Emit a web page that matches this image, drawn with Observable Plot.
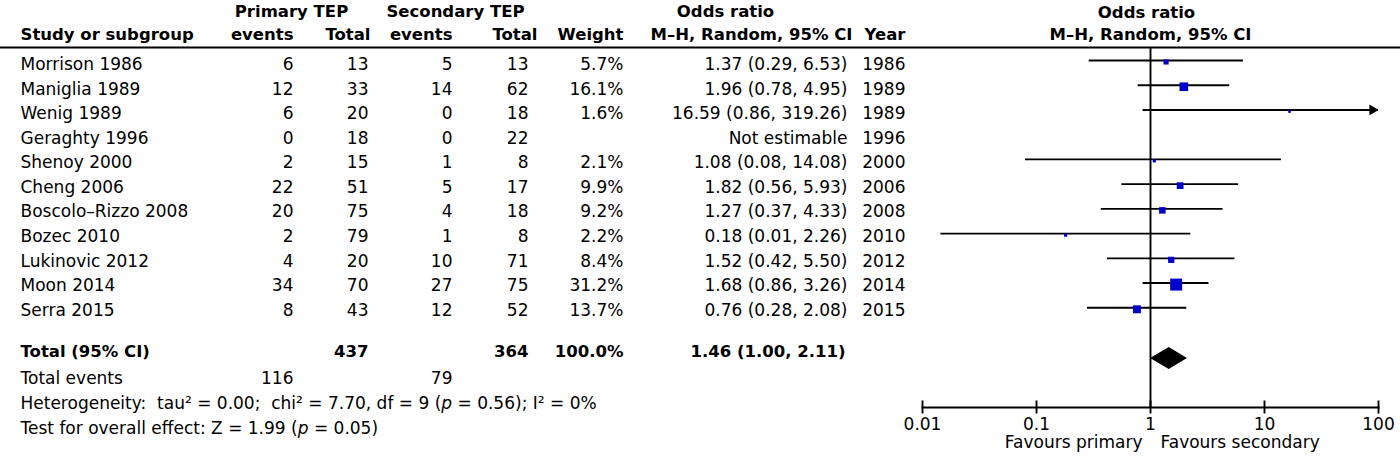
<!DOCTYPE html>
<html>
<head>
<meta charset="utf-8">
<script src="https://cdn.jsdelivr.net/npm/d3@7"></script>
<script src="https://cdn.jsdelivr.net/npm/@observablehq/plot@0.6"></script>
<style>
  body { margin: 0; background: #fff; }
  #chart { position: relative; width: 1400px; height: 458px; background: #fff; }
  #chart svg { position: absolute; left: 0; top: 0; }
</style>
</head>
<body>
<div id="chart"></div>
<script>
// ---------------- DATA ----------------
const studies = ["Morrison 1986", "Maniglia 1989", "Wenig 1989", "Geraghty 1996", "Shenoy 2000", "Cheng 2006",
  "Boscolo–Rizzo 2008", "Bozec 2010", "Lukinovic 2012", "Moon 2014", "Serra 2015"];
const primaryEvents   = [6, 12, 6, 0, 2, 22, 20, 2, 4, 34, 8];
const primaryTotal    = [13, 33, 20, 18, 15, 51, 75, 79, 20, 70, 43];
const secondaryEvents = [5, 14, 0, 0, 1, 5, 4, 1, 10, 27, 12];
const secondaryTotal  = [13, 62, 18, 22, 8, 17, 18, 8, 71, 75, 52];
const weights   = [5.7, 16.1, 1.6, null, 2.1, 9.9, 9.2, 2.2, 8.4, 31.2, 13.7];
const oddsRatio = [1.37, 1.96, 16.59, null, 1.08, 1.82, 1.27, 0.18, 1.52, 1.68, 0.76];
const ciLower   = [0.29, 0.78, 0.86, null, 0.08, 0.56, 0.37, 0.0145, 0.42, 0.86, 0.28];
const ciUpper   = [6.53, 4.95, 319.26, null, 14.08, 5.93, 4.33, 2.26, 5.50, 3.26, 2.08];
const years     = [1986, 1989, 1989, 1996, 2000, 2006, 2008, 2010, 2012, 2014, 2015];

const totalPrimary = 437, totalSecondary = 364, totalWeight = 100.0;
const totalOR = 1.46, totalLower = 1.00, totalUpper = 2.11;
const eventsPrimary = 116, eventsSecondary = 79;
const heterogeneityText = "Heterogeneity:  tau² = 0.00;  chi² = 7.70, df = 9 (p = 0.56); I² = 0%";
const overallText = "Test for overall effect: Z = 1.99 (p = 0.05)";

const headerTop = ["Primary TEP", "Secondary TEP", "Odds ratio"];
const headerCols = ["events", "Total", "events", "Total", "Weight", "M–H, Random, 95% CI", "Year"];
const studyHeader = "Study or subgroup";
const forestHeader = ["Odds ratio", "M–H, Random, 95% CI"];
const xTicks = [0.01, 0.1, 1, 10, 100];
const favours = ["Favours primary", "Favours secondary"];

// ---------------- LAYOUT ----------------
const W = 1400, H = 458;
const FONT = "DejaVu Sans";
const FS = 17;      // regular text
const FSB = 16.5;   // bold headers
const COL = {study: 20, pe: 293, pt: 368, se: 452, st: 528, w: 623, or: 847, yr: 905};
const headerTopX = [291, 455, 725];
const headerColX = [293, 370, 452, 537, 623, 852, 905];
const ROW = {h1: -2.14, h2: -1.21, total: 11.71, events: 12.79, het: 13.81, test: 14.83};
const FROW = {h1: -1.95, h2: -1.035, total: 12.05, favours: 15.43};
const xDomain = [0.01, 100];
const blue = "#0000cc";
const sw = 1.9;

const rows = studies.map((name, i) => ({
  i, name, pe: primaryEvents[i], pt: primaryTotal[i], se: secondaryEvents[i], st: secondaryTotal[i],
  w: weights[i], or: oddsRatio[i], lo: ciLower[i], hi: ciUpper[i], yr: years[i]
}));
const f2 = v => v.toFixed(2);

const at = v => () => v;
const endText = (data, x, y, text, extra = {}) => Plot.text(data, {x: at(x), y, text, textAnchor: "end", fontSize: FS, ...extra});
const startText = (data, x, y, text, extra = {}) => Plot.text(data, {x: at(x), y, text, textAnchor: "start", fontSize: FS, ...extra});
const bold = {fontWeight: "bold", fontSize: FSB};

// ---------------- TABLE ----------------
const table = Plot.plot({
  width: W, height: H,
  marginLeft: 0, marginRight: 0, marginTop: 47, marginBottom: 0,
  x: {type: "linear", domain: [0, W], range: [0, W], axis: null},
  y: {type: "linear", domain: [0, 10], range: [64.2, 309.7], axis: null},
  style: {fontFamily: FONT, fontSize: FS + "px", color: "#000", background: "transparent", overflow: "visible"},
  marks: [
    Plot.frame({anchor: "top", strokeWidth: 2}),
    // headers
    Plot.text(headerTop, {x: (d, i) => headerTopX[i], y: at(ROW.h1), text: d => d, textAnchor: "middle", ...bold}),
    Plot.text(headerCols, {x: (d, i) => headerColX[i], y: at(ROW.h2), text: d => d, textAnchor: "end", ...bold}),
    startText([studyHeader], COL.study, at(ROW.h2), d => d, bold),
    // study rows
    startText(rows, COL.study, "i", "name"),
    endText(rows, COL.pe, "i", d => String(d.pe)),
    endText(rows, COL.pt, "i", d => String(d.pt)),
    endText(rows, COL.se, "i", d => String(d.se)),
    endText(rows, COL.st, "i", d => String(d.st)),
    endText(rows, COL.w, "i", d => d.w == null ? "" : d.w.toFixed(1) + "%"),
    endText(rows, COL.or, "i", d => d.or == null ? "Not estimable" : `${f2(d.or)} (${f2(d.lo)}, ${f2(d.hi)})`),
    endText(rows, COL.yr, "i", d => String(d.yr)),
    // total row
    startText(["Total (95% CI)"], COL.study, at(ROW.total), d => d, bold),
    endText([totalPrimary], COL.pt, at(ROW.total), d => String(d), bold),
    endText([totalSecondary], COL.st, at(ROW.total), d => String(d), bold),
    endText([totalWeight], COL.w, at(ROW.total), d => d.toFixed(1) + "%", bold),
    endText([[totalOR, totalLower, totalUpper]], COL.or - 2, at(ROW.total), d => `${f2(d[0])} (${f2(d[1])}, ${f2(d[2])})`, bold),
    // total events
    startText(["Total events"], COL.study, at(ROW.events), d => d),
    endText([eventsPrimary], COL.pe, at(ROW.events), d => String(d)),
    endText([eventsSecondary], COL.se, at(ROW.events), d => String(d)),
    startText([heterogeneityText], COL.study, at(ROW.het), d => d),
    startText([overallText], COL.study, at(ROW.test), d => d)
  ]
});

// ---------------- FOREST ----------------
const ciRows = rows.filter(d => d.or != null);
const arrowRows = ciRows.filter(d => d.hi > xDomain[1]);
const half = 0.445;
const diamond = [
  {x: totalLower, y1: FROW.total, y2: FROW.total},
  {x: totalOR, y1: FROW.total - half, y2: FROW.total + half},
  {x: totalUpper, y1: FROW.total, y2: FROW.total}
];

const forest = Plot.plot({
  width: W, height: H,
  marginLeft: 922, marginRight: 22, marginTop: 48, marginBottom: 51,
  x: {type: "log", domain: xDomain},
  y: {type: "linear", domain: [0, 10], range: [60, 307.3], axis: null},
  r: {type: "sqrt", domain: [0, 100], range: [0, 12.1]},
  style: {fontFamily: FONT, fontSize: FS + "px", color: "#000", background: "transparent", overflow: "visible"},
  marks: [
    Plot.ruleX([1], {strokeWidth: sw}),
    Plot.ruleY(ciRows, {y: "i", x1: "lo", x2: d => Math.min(d.hi, xDomain[1]), strokeWidth: sw}),
    Plot.dot(arrowRows, {x: () => xDomain[1], y: "i", symbol: "triangle", rotate: 90, r: 4, fill: "black", dx: -6}),
    Plot.dot(ciRows, {x: "or", y: "i", r: "w", symbol: "square", fill: blue, dy: 1.5}),
    Plot.areaY(diamond, {x: "x", y1: "y1", y2: "y2", fill: "black"}),
    Plot.frame({anchor: "bottom", strokeWidth: sw}),
    Plot.axisX({ticks: xTicks, tickSize: 13, dy: -6.5, tickFormat: () => "", strokeWidth: sw, label: null}),
    Plot.axisX({ticks: xTicks, tickSize: 0, tickPadding: 10, tickFormat: d => String(d), label: null, fontSize: FS}),
    Plot.text([forestHeader[0]], {x: at(1), y: at(FROW.h1), text: d => d, dx: -4, ...bold}),
    Plot.text([forestHeader[1]], {x: at(1), y: at(FROW.h2), text: d => d, ...bold}),
    Plot.text([favours[0]], {x: at(1), y: at(FROW.favours), text: d => d, textAnchor: "end", dx: -8, fontSize: FS}),
    Plot.text([favours[1]], {x: at(1), y: at(FROW.favours), text: d => d, textAnchor: "start", dx: 10, fontSize: FS})
  ]
});

const chart = document.getElementById("chart");
chart.appendChild(table);
chart.appendChild(forest);

// italic "p" in the statistics lines
d3.select(table).selectAll("text").each(function () {
  const t = this.textContent;
  if (t.includes("(p = ")) {
    const parts = t.split("(p = ");
    const sel = d3.select(this);
    sel.text(null);
    parts.forEach((part, k) => {
      if (k > 0) {
        sel.append("tspan").text("(");
        sel.append("tspan").attr("font-style", "italic").text("p");
        sel.append("tspan").text(" = " + part);
      } else {
        sel.append("tspan").text(part);
      }
    });
  }
});
</script>
</body>
</html>
